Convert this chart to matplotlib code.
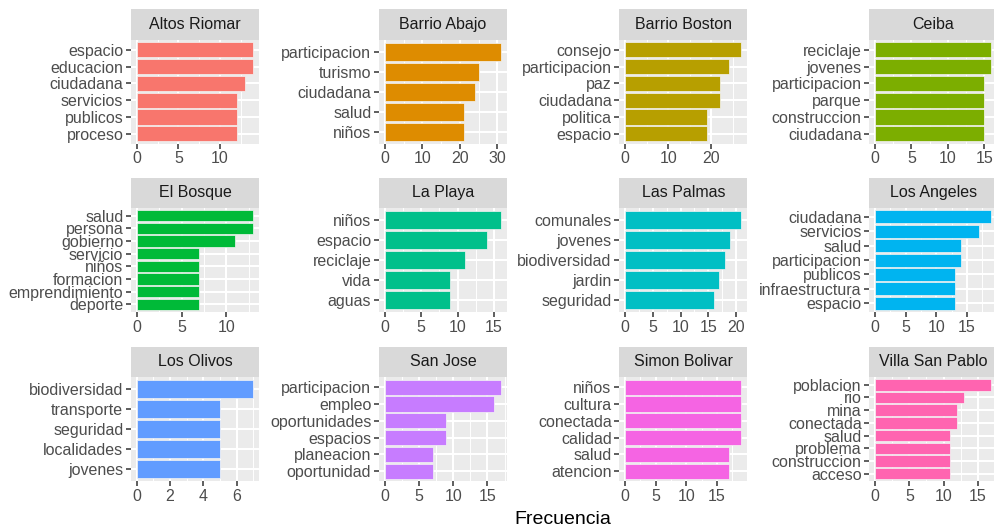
import numpy as np
import matplotlib
matplotlib.use("Agg")
import matplotlib.pyplot as plt

plt.rcParams['font.family'] = ['Liberation Sans', 'DejaVu Sans']

# panel titles (facet order, row by row)
BARRIOS = ["Altos Riomar", "Barrio Abajo", "Barrio Boston", "Ceiba",
           "El Bosque", "La Playa", "Las Palmas", "Los Angeles",
           "Los Olivos", "San Jose", "Simon Bolivar", "Villa San Pablo"]

# words per panel, listed top to bottom
WORDS = [
    ["espacio", "educacion", "ciudadana", "servicios", "publicos", "proceso"],
    ["participacion", "turismo", "ciudadana", "salud", "niños"],
    ["consejo", "participacion", "paz", "ciudadana", "politica", "espacio"],
    ["reciclaje", "jovenes", "participacion", "parque", "construccion", "ciudadana"],
    ["salud", "persona", "gobierno", "servicio", "niños", "formacion",
     "emprendimiento", "deporte"],
    ["niños", "espacio", "reciclaje", "vida", "aguas"],
    ["comunales", "jovenes", "biodiversidad", "jardin", "seguridad"],
    ["ciudadana", "servicios", "salud", "participacion", "publicos",
     "infraestructura", "espacio"],
    ["biodiversidad", "transporte", "seguridad", "localidades", "jovenes"],
    ["participacion", "empleo", "oportunidades", "espacios", "planeacion", "oportunidad"],
    ["niños", "cultura", "conectada", "calidad", "salud", "atencion"],
    ["poblacion", "rio", "mina", "conectada", "salud", "problema",
     "construccion", "acceso"],
]

# frequencies, same order as WORDS
FREQS = [
    [14, 14, 13, 12, 12, 12],
    [31, 25, 24, 21, 21],
    [27, 24, 22, 22, 19, 19],
    [16, 16, 15, 15, 15, 15],
    [13, 13, 11, 7, 7, 7, 7, 7],
    [16, 14, 11, 9, 9],
    [21, 19, 18, 17, 16],
    [19, 17, 14, 14, 13, 13, 13],
    [7, 5, 5, 5, 5],
    [17, 16, 9, 9, 7, 7],
    [19, 19, 19, 19, 17, 17],
    [17, 13, 12, 12, 11, 11, 11, 11],
]

# ggplot hue palette, 12 levels
COLORS = ["#F8766D", "#DE8C00", "#B79F00", "#7CAE00", "#00BA38", "#00C08B",
          "#00BFC4", "#00B4F0", "#619CFF", "#C77CFF", "#F564E3", "#FF64B0"]

TICK_STEP = [5, 10, 10, 5, 5, 5, 5, 5, 2, 5, 5, 5]

W, H = 994, 527
fig = plt.figure(figsize=(W / 100, H / 100), dpi=100)


def px_axes(left, top, width, height):
    return fig.add_axes([left / W, 1 - (top + height) / H, width / W, height / H])


COL_LEFT = [131, 379, 619.3, 869.3]
ROW_TOP = [9.3, 177.5, 346.7]
PANEL_W = 128
STRIP_H = 30.5
PANEL_H = 104

for k, name in enumerate(BARRIOS):
    r, c = divmod(k, 4)
    left, top = COL_LEFT[c], ROW_TOP[r]

    # strip
    sax = px_axes(left, top, PANEL_W, STRIP_H)
    sax.set_facecolor("#D9D9D9")
    sax.set_xticks([])
    sax.set_yticks([])
    for s in sax.spines.values():
        s.set_visible(False)
    sax.text(0.5, 0.5, name, ha="center", va="center", fontsize=11.5,
             color="#1A1A1A", transform=sax.transAxes)

    # panel
    ax = px_axes(left, top + STRIP_H, PANEL_W, PANEL_H)
    ax.set_facecolor("#EBEBEB")
    for s in ax.spines.values():
        s.set_visible(False)

    words = WORDS[k]
    vals = FREQS[k]
    n = len(words)
    ypos = np.arange(n)[::-1]
    ax.barh(ypos, vals, height=0.9, color=COLORS[k], edgecolor="#F4F4F4",
            linewidth=0.5, zorder=3)

    vmax = max(vals)
    ax.set_xlim(-0.05 * vmax, 1.05 * vmax)
    ax.set_ylim(-0.6, n - 1 + 0.6)

    step = TICK_STEP[k]
    majors = np.arange(0, 1.05 * vmax + 1e-9, step)
    minors = np.arange(step / 2, 1.05 * vmax, step)
    ax.set_xticks(majors)
    ax.set_xticks(minors, minor=True)
    ax.set_xticklabels([f"{int(m)}" for m in majors])
    ax.set_yticks(ypos)
    ax.set_yticklabels(words)

    ax.grid(which="major", color="white", linewidth=1.5, zorder=1)
    ax.grid(which="minor", axis="x", color="white", linewidth=0.7, zorder=1)
    ax.set_axisbelow(True)

    ax.tick_params(axis="both", which="major", length=3.5, width=1.1,
                   color="#333333", labelcolor="#4D4D4D", labelsize=11.5, pad=2)
    ax.tick_params(axis="x", which="minor", length=0)

fig.text(563 / W, 1 - 519 / H, "Frecuencia", ha="center", va="center",
         fontsize=14, color="black")

plt.savefig("out.png", dpi=100)
